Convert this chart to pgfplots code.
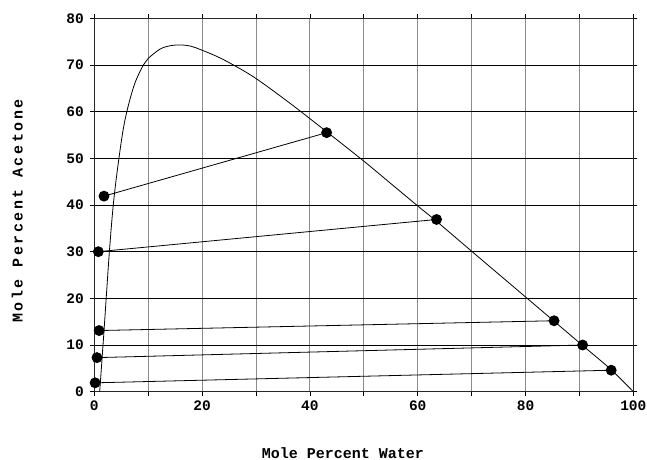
\documentclass[border=0pt]{standalone}
\usepackage{fontspec}
\setmainfont{Liberation Mono}
\usepackage{pgfplots}
\pgfplotsset{compat=1.18}

\begin{document}
\begin{tikzpicture}
\begin{axis}[
    name=ax,
    scale only axis,
    width=539pt, height=373.4pt,
    xmin=0, xmax=100, ymin=0, ymax=80,
    xtick={0,10,...,100},
    xticklabels={0,,20,,40,,60,,80,,100},
    ytick={0,10,...,80},
    tick align=outside,
    major tick length=4pt,
    tick style={black, line width=0.8pt},
    axis line style={black!85, line width=1pt},
    grid=major,
    x grid style={black!45, line width=0.9pt},
    y grid style={black, line width=0.9pt},
    /pgf/number format/assume math mode=true,
    ticklabel style={font=\bfseries\fontsize{14.5}{14.5}\selectfont},
    xticklabel style={yshift=-2pt},
    yticklabel style={xshift=-3pt},
    xlabel={Mole Percent Water},
    ylabel={Mole Percent Acetone},
    xlabel style={font=\bfseries\fontsize{15}{15}\selectfont, at={(axis description cs:0.461,-0.164)}, anchor=center},
    ylabel style={font=\bfseries\fontsize{15}{15}\selectfont\addfontfeature{LetterSpace=17}, at={(axis description cs:-0.143,0.484)}, anchor=center},
]
% binodal curve
\addplot[black, line width=0.8pt, smooth, tension=0.55] coordinates {
    (1,0) (1.8,13) (2.8,30) (3.7,42) (5.1,54.3) (6.1,60.3) (7.5,66)
    (9.1,70) (10,71.4) (12.2,73.4) (14,74.1) (16,74.3) (18,74.0)
    (19.9,73.2) (22.8,71.8) (25.8,70) (30,67.1) (36.3,61.8) (43.1,55.7)
    (50,49.4) (55,44.6) (60,39.8) (63.5,36.5) (70,30.1) (75,25.2) (80,20.3)
    (85.3,15.1) (90.6,9.9) (95.9,4.7) (100,0)
};
% tie lines
\addplot[black, line width=0.8pt, mark=*, mark size=5pt] coordinates {(1.8,41.9) (43.1,55.5)};
\addplot[black, line width=0.8pt, mark=*, mark size=5pt] coordinates {(0.75,30) (63.5,36.9)};
\addplot[black, line width=0.8pt, mark=*, mark size=5pt] coordinates {(0.9,13.1) (85.3,15.2)};
\addplot[black, line width=0.8pt, mark=*, mark size=5pt] coordinates {(0.5,7.3) (90.6,10)};
\addplot[black, line width=0.8pt, mark=*, mark size=5pt] coordinates {(0.15,1.9) (95.9,4.6)};
\end{axis}
\pgfresetboundingbox
\path[use as bounding box] ([xshift=-94.3pt,yshift=-68.3pt]ax.south west) rectangle ([xshift=13.7pt,yshift=18.3pt]ax.north east);
\end{tikzpicture}
\end{document}
